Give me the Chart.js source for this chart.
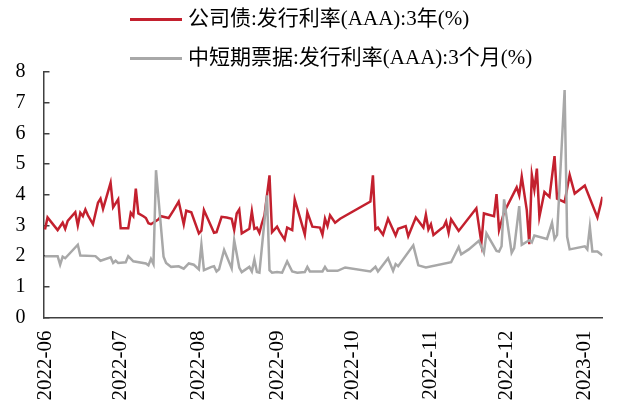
<!DOCTYPE html>
<html>
<head>
<meta charset="utf-8">
<script src="https://cdn.jsdelivr.net/npm/chart.js@4/dist/chart.umd.min.js"></script>
<style>
  html, body { margin: 0; padding: 0; background: #fff; }
  #wrap { width: 623px; height: 403px; position: relative; }
</style>
</head>
<body>
<div id="wrap"><canvas id="c" width="623" height="403"></canvas></div>
<script>
// Series names
const seriesNames = ['公司债:发行利率(AAA):3年(%)', '中短期票据:发行利率(AAA):3个月(%)'];

// Corporate bond, AAA, 3-year issuance rate
const bondDates = [
  '2022-06-01','2022-06-02','2022-06-06','2022-06-08','2022-06-09','2022-06-10','2022-06-13','2022-06-14',
  '2022-06-15','2022-06-16','2022-06-17','2022-06-18','2022-06-20','2022-06-22','2022-06-23','2022-06-24',
  '2022-06-27','2022-06-28','2022-06-30','2022-07-01','2022-07-04','2022-07-05','2022-07-06','2022-07-07',
  '2022-07-08','2022-07-10','2022-07-11','2022-07-12','2022-07-13','2022-07-16','2022-07-17','2022-07-20',
  '2022-07-22','2022-07-24','2022-07-26','2022-07-27','2022-07-29','2022-08-01','2022-08-02','2022-08-03',
  '2022-08-07','2022-08-08','2022-08-10','2022-08-12','2022-08-14','2022-08-15','2022-08-16','2022-08-17',
  '2022-08-18','2022-08-21','2022-08-22','2022-08-23','2022-08-24','2022-08-25','2022-08-26','2022-08-27',
  '2022-08-29','2022-08-30','2022-09-01','2022-09-02','2022-09-04','2022-09-05','2022-09-07','2022-09-08',
  '2022-09-10','2022-09-12','2022-09-13','2022-09-15','2022-09-18','2022-09-19','2022-09-20','2022-09-21',
  '2022-09-22','2022-09-24','2022-09-26','2022-10-08','2022-10-09','2022-10-10','2022-10-11','2022-10-13',
  '2022-10-15','2022-10-18','2022-10-19','2022-10-22','2022-10-23','2022-10-26','2022-10-27','2022-10-29',
  '2022-10-30','2022-10-31','2022-11-01','2022-11-02','2022-11-05','2022-11-06','2022-11-07','2022-11-08',
  '2022-11-09','2022-11-12','2022-11-19','2022-11-21','2022-11-22','2022-11-26','2022-11-27','2022-11-28',
  '2022-11-30','2022-12-05','2022-12-06','2022-12-07','2022-12-09','2022-12-10','2022-12-11','2022-12-12',
  '2022-12-13','2022-12-14','2022-12-16','2022-12-18','2022-12-20','2022-12-21','2022-12-24','2022-12-26',
  '2022-12-28','2023-01-01','2023-01-06','2023-01-08'
];
const bondRates = [
  2.87,3.26,2.85,3.09,2.89,3.15,3.43,3.00,
  3.41,3.30,3.52,3.33,3.04,3.74,3.87,3.54,
  4.39,3.59,3.85,2.91,2.91,3.41,3.30,4.20,
  3.39,3.30,3.24,3.07,3.04,3.20,3.30,3.24,
  3.50,3.78,3.04,3.48,3.43,2.74,2.83,3.50,
  2.76,2.78,3.28,3.26,3.22,2.85,3.39,3.52,
  2.74,2.89,3.46,2.89,2.93,2.76,3.07,3.33,
  4.63,2.78,2.96,2.80,2.54,2.93,2.85,3.85,
  3.28,2.70,3.43,2.96,2.93,2.70,3.22,2.98,
  3.33,3.09,3.22,3.78,4.63,2.87,2.93,2.70,
  3.22,2.67,2.89,2.98,2.65,3.26,3.15,2.93,
  3.35,2.87,3.04,2.69,2.89,2.95,3.13,2.76,
  3.20,2.82,3.56,2.43,3.39,3.30,4.02,2.85,
  3.43,4.24,3.98,4.59,3.50,2.39,4.65,4.17,
  4.85,3.28,4.09,3.93,5.26,3.87,3.76,4.65,
  4.04,4.30,3.26,3.93
];

// Medium-term note, AAA, 3-month issuance rate
const noteDates = [
  '2022-06-01','2022-06-06','2022-06-07','2022-06-08','2022-06-09','2022-06-14','2022-06-15','2022-06-21',
  '2022-06-23','2022-06-27','2022-06-28','2022-06-29','2022-06-30','2022-07-03','2022-07-04','2022-07-06',
  '2022-07-11','2022-07-12','2022-07-13','2022-07-14','2022-07-15','2022-07-18','2022-07-19','2022-07-21',
  '2022-07-24','2022-07-26','2022-07-28','2022-07-30','2022-08-01','2022-08-02','2022-08-03','2022-08-06',
  '2022-08-07','2022-08-08','2022-08-09','2022-08-11','2022-08-14','2022-08-15','2022-08-17','2022-08-18',
  '2022-08-21','2022-08-22','2022-08-23','2022-08-24','2022-08-25','2022-08-28','2022-08-29','2022-08-30',
  '2022-09-01','2022-09-03','2022-09-05','2022-09-07','2022-09-09','2022-09-12','2022-09-13','2022-09-14',
  '2022-09-19','2022-09-20','2022-09-21','2022-09-25','2022-09-28','2022-10-08','2022-10-10','2022-10-11',
  '2022-10-15','2022-10-17','2022-10-18','2022-10-19','2022-10-25','2022-10-27','2022-10-30','2022-11-09',
  '2022-11-12','2022-11-13','2022-11-16','2022-11-20','2022-11-22','2022-11-23','2022-11-27','2022-11-28',
  '2022-11-29','2022-11-30','2022-12-03','2022-12-04','2022-12-06','2022-12-07','2022-12-10','2022-12-11',
  '2022-12-12','2022-12-17','2022-12-19','2022-12-20','2022-12-21','2022-12-24','2022-12-25','2022-12-26',
  '2023-01-01','2023-01-02','2023-01-03','2023-01-04','2023-01-06','2023-01-08'
];
const noteRates = [
  2.00,2.00,1.72,1.98,1.93,2.37,2.02,2.00,
  1.85,1.96,1.78,1.85,1.78,1.80,2.00,1.83,
  1.76,1.70,1.91,1.74,4.80,1.98,1.78,1.65,
  1.67,1.59,1.76,1.72,1.57,2.37,1.54,1.65,
  1.67,1.50,1.57,2.20,1.60,2.52,1.63,1.48,
  1.65,1.50,1.89,1.48,1.46,3.98,1.54,1.46,
  1.48,1.46,1.83,1.50,1.46,1.48,1.65,1.50,
  1.50,1.65,1.52,1.52,1.63,1.50,1.65,1.50,
  1.93,1.52,1.74,1.67,2.35,1.70,1.63,1.80,
  2.30,2.06,2.22,2.50,2.11,2.74,2.17,2.15,
  2.32,3.85,2.11,2.26,3.63,2.37,2.52,2.45,
  2.67,2.56,3.09,2.56,2.69,7.41,2.63,2.22,
  2.32,2.22,2.95,2.15,2.15,2.02
];

// Month labels shown along the date axis
const monthLabels = ['2022-06','2022-07','2022-08','2022-09','2022-10','2022-11','2022-12','2023-01'];
// Value axis range
const yMin = 0, yMax = 8, yStep = 1;

// Dates become day offsets from the first month on the axis
const DAY = 86400000;
const origin = Date.UTC(2022, 5, 1);
function dayOf(s) {
  const p = s.split('-').map(Number);
  return Math.round((Date.UTC(p[0], p[1] - 1, p[2] || 1) - origin) / DAY);
}
const monthTicks = monthLabels.map(dayOf);
const toPoints = (dates, vals) => dates.map((d, i) => ({ x: dayOf(d), y: vals[i] }));

const RED = '#C3202E';
const GRAY = '#A8A8A8';
const AXIS = '#404040';
const serif = "'Liberation Serif', 'Times New Roman', serif";
const legendFont = "21px 'Liberation Serif', 'Noto Sans CJK SC', serif";

// Two-row legend above the plot, rows left-aligned
const stackedLegend = {
  id: 'stackedLegend',
  afterDraw(chart) {
    const ctx = chart.ctx;
    const rows = [
      { text: seriesNames[0], color: RED, y: 19.5 },
      { text: seriesNames[1], color: GRAY, y: 58.5 }
    ];
    ctx.save();
    rows.forEach(r => {
      ctx.strokeStyle = r.color;
      ctx.lineWidth = 3;
      ctx.beginPath();
      ctx.moveTo(130, r.y);
      ctx.lineTo(182, r.y);
      ctx.stroke();
      ctx.fillStyle = '#000';
      ctx.font = legendFont;
      ctx.textBaseline = 'middle';
      ctx.textAlign = 'left';
      ctx.fillText(r.text, 188, r.y);
    });
    ctx.restore();
  }
};

new Chart(document.getElementById('c'), {
  type: 'line',
  data: {
    datasets: [
      {
        label: seriesNames[0],
        data: toPoints(bondDates, bondRates),
        borderColor: RED,
        borderWidth: 2.5,
        pointRadius: 0,
        tension: 0,
        order: 1
      },
      {
        label: seriesNames[1],
        data: toPoints(noteDates, noteRates),
        borderColor: GRAY,
        borderWidth: 2.5,
        pointRadius: 0,
        tension: 0,
        order: 0
      }
    ]
  },
  options: {
    responsive: false,
    animation: false,
    devicePixelRatio: 1,
    layout: { padding: { top: 72, left: 0, right: 0, bottom: 0 } },
    plugins: {
      legend: { display: false },
      tooltip: { enabled: false }
    },
    scales: {
      x: {
        type: 'linear',
        min: -0.6,
        max: 221,
        afterBuildTicks(scale) {
          scale.ticks = monthTicks.map(v => ({ value: v }));
        },
        afterFit(scale) { scale.height = 85.5; },
        ticks: {
          autoSkip: false,
          minRotation: 90,
          maxRotation: 90,
          padding: 13,
          color: '#000',
          font: { family: serif, size: 21 },
          callback(v) {
            const i = monthTicks.indexOf(v);
            return i >= 0 ? monthLabels[i] : '';
          }
        },
        grid: { drawOnChartArea: false, drawTicks: false },
        border: { display: true, color: AXIS, width: 1.5 }
      },
      y: {
        min: yMin,
        max: yMax,
        afterFit(scale) { scale.width = 43.5; },
        ticks: {
          stepSize: yStep,
          padding: 24,
          color: '#000',
          font: { family: serif, size: 20 }
        },
        grid: { drawOnChartArea: false, drawTicks: true, tickLength: -6, color: AXIS, lineWidth: 1.5 },
        border: { display: true, color: AXIS, width: 1.5 }
      }
    }
  },
  plugins: [stackedLegend]
});
</script>
</body>
</html>
